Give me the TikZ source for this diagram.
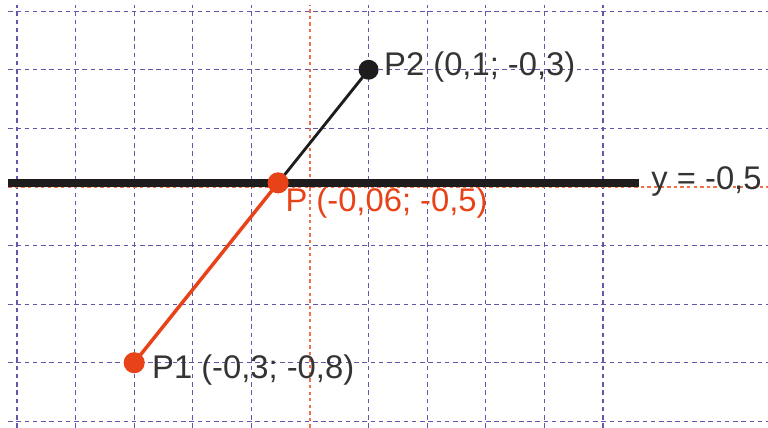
\documentclass[tikz,border=0pt]{standalone}
\usepackage{fontspec}
\setmainfont{Liberation Sans}
\definecolor{gridviolet}{RGB}{100,86,170}
\definecolor{gridorange}{RGB}{242,112,72}
\definecolor{segred}{RGB}{232,66,24}
\definecolor{inkblack}{RGB}{30,28,28}
\begin{document}
\begin{tikzpicture}[x=10cm, y=10cm,
    gridline/.style={gridviolet, line width=0.55pt, dash pattern=on 2.2pt off 1.8pt},
    zeroline/.style={gridorange, line width=0.55pt, dash pattern=on 1.6pt off 1.6pt},
    lbl/.style={inner sep=0pt, font=\fontsize{15.9}{18}\selectfont}]
    \useasboundingbox (-0.529,-0.911) rectangle (0.7816,-0.181);

    % Сетка
    \foreach \gx in {-0.5,-0.4,-0.3,-0.2,-0.1,0.1,0.2,0.3,0.4,0.5}
        \draw[gridline] (\gx,-0.911) -- (\gx,-0.19);
    \foreach \gy in {-0.9,-0.8,-0.7,-0.6,-0.4,-0.3,-0.2}
        \draw[gridline] (-0.515,\gy) -- (0.7816,\gy);
    \draw[zeroline] (0,-0.911) -- (0,-0.19);
    \draw[zeroline] (-0.515,-0.5) -- (0.7816,-0.5);

    % Прямая y = -0,5
    \coordinate (La) at (-0.515,-0.493);
    \coordinate (Lb) at (0.562,-0.493);
    \draw[inkblack, line width=3.9pt] (La) -- (Lb);
    \node[lbl, anchor=base west, inkblack!90] (ylbl) at ([shift={(0.2cm,-0.11cm)}]Lb) {y = -0,5};

    % Точки отрезка и пересечение
    \coordinate (P1) at (-0.3,-0.8);
    \coordinate (P2) at (0.1,-0.3);
    \coordinate (P) at (intersection of P1--P2 and La--Lb);

    \draw[inkblack, line width=1.4pt] (P) -- (P2);
    \draw[segred, line width=1.7pt] (P1) -- (P);

    \fill[inkblack] (P2) circle[radius=0.17cm];
    \fill[segred] (P) circle[radius=0.18cm];
    \fill[segred] (P1) circle[radius=0.18cm];

    % Подписи
    \node[lbl, anchor=base west, inkblack!90] (p2lbl) at ([shift={(0.26cm,-0.1cm)}]P2) {P2 (0,1; -0,3)};
    \node[lbl, anchor=base west, segred] (plbl) at ([shift={(0.12cm,-0.49cm)}]P) {P (-0,06; -0,5)};
    \node[lbl, anchor=base west, inkblack!90] (p1lbl) at ([shift={(0.3cm,-0.27cm)}]P1) {P1 (-0,3; -0,8)};
\end{tikzpicture}
\end{document}
